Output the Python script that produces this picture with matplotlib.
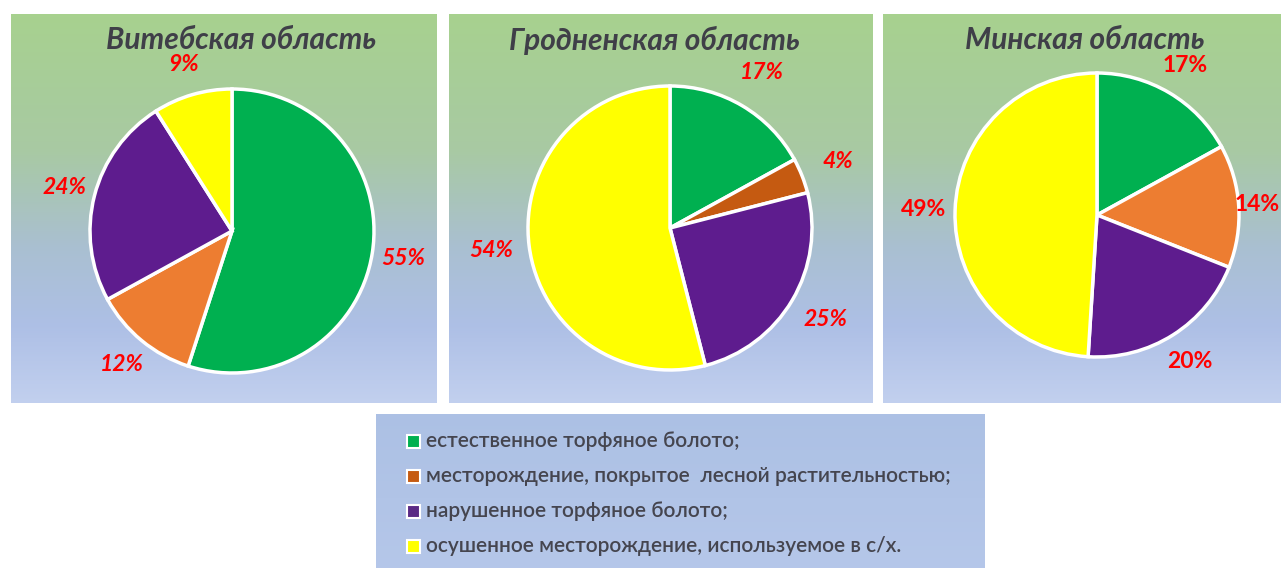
import numpy as np
import matplotlib
matplotlib.use('Agg')
import matplotlib.pyplot as plt
from matplotlib.colors import LinearSegmentedColormap
from matplotlib.patches import Rectangle

# data
regions = ['Витебская область', 'Гродненская область', 'Минская область']
vitebsk = [55, 12, 24, 9]
grodno = [17, 4, 25, 54]
minsk = [17, 14, 20, 49]
categories = ['естественное торфяное болото;',
              'месторождение, покрытое  лесной растительностью;',
              'нарушенное торфяное болото;',
              'осушенное месторождение, используемое в с/х.']

GREEN = '#00B050'
ORANGE = '#ED7D31'
ORANGE_DARK = '#C55A11'
PURPLE = '#5E1C8E'
YELLOW = '#FFFF00'
pie_colors = [
    [GREEN, ORANGE, PURPLE, YELLOW],
    [GREEN, ORANGE_DARK, PURPLE, YELLOW],
    [GREEN, ORANGE, PURPLE, YELLOW],
]
legend_colors = [GREEN, ORANGE_DARK, '#5A2A85', YELLOW]

W, H = 1281, 568
fig = plt.figure(figsize=(W / 100, H / 100), dpi=100)
ax = fig.add_axes([0, 0, 1, 1])
ax.set_xlim(0, W)
ax.set_ylim(0, H)
ax.axis('off')

# panel layout in pixels (left, right, top, bottom), image coords
panels = [(11, 437, 14, 403), (449, 873, 14, 403), (883, 1281, 14, 403)]
centers = [(232, 231), (670, 228), (1097, 215)]
title_x = [241, 654, 1085]
radius = 142
pct_dist = [1.22, 1.27, 1.22]

bg_cmap = LinearSegmentedColormap.from_list('bg', [
    (0.0, (0.655, 0.820, 0.560)),
    (0.35, (0.660, 0.790, 0.640)),
    (0.6, (0.665, 0.750, 0.820)),
    (0.8, (0.680, 0.750, 0.900)),
    (1.0, (0.760, 0.815, 0.935)),
])
grad = np.linspace(0, 1, 256).reshape(-1, 1)

for (l, r, t, b) in panels:
    ax.imshow(grad, cmap=bg_cmap, aspect='auto', extent=(l, r, H - b, H - t),
              origin='upper', zorder=0, interpolation='bicubic')

all_pct = []
datasets = [vitebsk, grodno, minsk]
for i, vals in enumerate(datasets):
    cx, cy = centers[i]
    italic = 'normal' if i == 2 else 'italic'
    wedges, texts, autotexts = ax.pie(
        vals, colors=pie_colors[i], startangle=90, counterclock=False,
        center=(cx, H - cy), radius=radius, frame=True,
        autopct='%.0f%%', pctdistance=pct_dist[i],
        wedgeprops=dict(edgecolor='white', linewidth=2.5),
        textprops=dict(color='#FF0000', fontsize=16.5, fontweight='bold',
                       fontstyle=italic, family=['Lato', 'DejaVu Sans']))
    for w in wedges:
        w.set_zorder(2)
    all_pct.extend(autotexts)
    ax.text(title_x[i], H - 40, regions[i], ha='center', va='center',
            fontsize=21.5, fontweight='bold', fontstyle='italic', color='#3F3F48',
            family=['Lato', 'DejaVu Sans'], zorder=3)

# legend box
lg_cmap = LinearSegmentedColormap.from_list('lg', [(0.675, 0.755, 0.895), (0.71, 0.78, 0.915)])
ax.imshow(grad, cmap=lg_cmap, aspect='auto', extent=(376, 985, 0, H - 414),
          origin='upper', zorder=0)
for j, (lab, col) in enumerate(zip(categories, legend_colors)):
    yc = H - (441 + 35 * j)
    ax.add_patch(Rectangle((407, yc - 6.5), 13, 13, facecolor=col, edgecolor='white',
                           linewidth=1.5, zorder=3))
    ax.text(426, yc, lab, ha='left', va='center', fontsize=15, color='#45454F',
            fontweight='semibold', family=['Lato', 'DejaVu Sans'], zorder=3)

ax.set_xlim(0, W)
ax.set_ylim(0, H)
ax.set_aspect('auto')

# keep percentage labels inside the picture
fig.canvas.draw()
renderer = fig.canvas.get_renderer()
for t in all_pct:
    bb = t.get_window_extent(renderer)
    if bb.x1 > W - 1:
        x, y = t.get_position()
        t.set_position((x - (bb.x1 - (W - 1)), y))

fig.savefig('out.png', dpi=100, facecolor='white')
